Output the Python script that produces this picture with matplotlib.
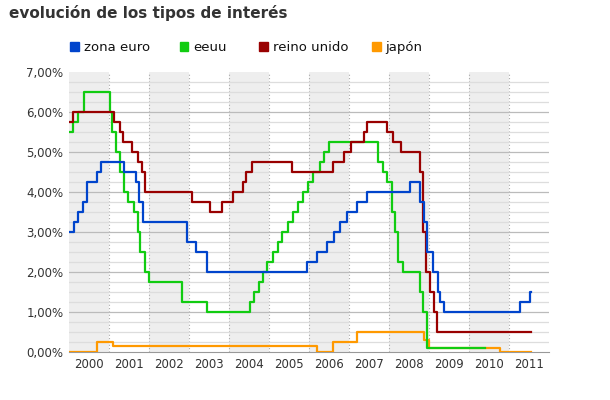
import matplotlib.pyplot as plt
import numpy as np

# step change dates (fractional years) and rates in %
euro_t = [2000.0, 2000.125, 2000.225, 2000.342, 2000.442, 2000.692, 2000.792, 2001.375, 2001.675,
          2001.758, 2001.858, 2002.958, 2003.175, 2003.442, 2005.942, 2006.208, 2006.458, 2006.625,
          2006.775, 2006.942, 2007.208, 2007.458, 2008.525, 2008.775, 2008.875, 2008.958, 2009.092,
          2009.225, 2009.275, 2009.375, 2011.275, 2011.525]
euro_v = [3.0, 3.25, 3.5, 3.75, 4.25, 4.5, 4.75, 4.5, 4.25, 3.75, 3.25, 2.75, 2.5, 2.0, 2.25, 2.5,
          2.75, 3.0, 3.25, 3.5, 3.75, 4.0, 4.25, 3.75, 3.25, 2.5, 2.0, 1.5, 1.25, 1.0, 1.25, 1.5]

us_t = [2000.0, 2000.1, 2000.217, 2000.383, 2001.017, 2001.083, 2001.183, 2001.283, 2001.367,
        2001.467, 2001.633, 2001.717, 2001.767, 2001.9, 2002.0, 2002.817, 2003.442, 2004.525,
        2004.625, 2004.742, 2004.858, 2004.958, 2005.092, 2005.225, 2005.325, 2005.475, 2005.592,
        2005.725, 2005.842, 2005.975, 2006.092, 2006.275, 2006.375, 2006.492, 2007.725, 2007.842,
        2007.942, 2008.075, 2008.142, 2008.225, 2008.342, 2008.775, 2008.858, 2008.942]
us_v = [5.5, 5.75, 6.0, 6.5, 6.0, 5.5, 5.0, 4.5, 4.0, 3.75, 3.5, 3.0, 2.5, 2.0, 1.75, 1.25, 1.0,
        1.25, 1.5, 1.75, 2.0, 2.25, 2.5, 2.75, 3.0, 3.25, 3.5, 3.75, 4.0, 4.25, 4.5, 4.75, 5.0,
        5.25, 4.75, 4.5, 4.25, 3.5, 3.0, 2.25, 2.0, 1.5, 1.0, 0.1]
us_end = 2010.4

uk_t = [2000.0, 2000.1, 2001.117, 2001.267, 2001.35, 2001.567, 2001.717, 2001.817, 2001.9,
        2003.083, 2003.517, 2003.833, 2004.1, 2004.35, 2004.433, 2004.583, 2005.583, 2006.6,
        2006.875, 2007.042, 2007.375, 2007.442, 2007.958, 2008.092, 2008.292, 2008.775, 2008.842,
        2008.925, 2009.025, 2009.125, 2009.192]
uk_v = [5.75, 6.0, 5.75, 5.5, 5.25, 5.0, 4.75, 4.5, 4.0, 3.75, 3.5, 3.75, 4.0, 4.25, 4.5, 4.75,
        4.5, 4.75, 5.0, 5.25, 5.5, 5.75, 5.5, 5.25, 5.0, 4.5, 3.0, 2.0, 1.5, 1.0, 0.5]

jp_t = [2000.0, 2000.692, 2001.092, 2006.192, 2006.592, 2007.208, 2008.875, 2009.008, 2010.775]
jp_v = [0.0, 0.25, 0.15, 0.0, 0.25, 0.5, 0.3, 0.1, 0.0]

end_t = 2011.55
years = list(range(2000, 2012))
ytick_labels = ['0,00%', '1,00%', '2,00%', '3,00%', '4,00%', '5,00%', '6,00%', '7,00%']

fig = plt.figure(figsize=(6.1, 4.0), dpi=100)
ax = fig.add_axes([0.113, 0.12, 0.787, 0.70])

for y in years[::2]:
    ax.axvspan(y, y + 1, color='#eeeeee', lw=0, zorder=0)
for y in years[1:]:
    ax.axvline(y, color='#aaaaaa', ls=(0, (1, 2)), lw=0.8, zorder=1)
for v in np.arange(0.25, 7.0, 0.25):
    major = abs(v - round(v)) < 1e-9
    ax.axhline(v, color='#bbbbbb' if major else '#dddddd', lw=0.9, zorder=1)


def step(t, v, end, color):
    ax.step(t + [end], v + [v[-1]], where='post', color=color, lw=1.6, zorder=3)


step(jp_t, jp_v, end_t, '#ff9900')
step(us_t, us_v, us_end, '#11cc11')
step(uk_t, uk_v, end_t, '#990000')
step(euro_t, euro_v, end_t, '#0044cc')

ax.set_xlim(2000, 2012)
ax.set_ylim(0, 7)
ax.set_xticks([y + 0.5 for y in years])
ax.set_xticklabels([str(y) for y in years], fontsize=8.5, color='#333333')
ax.set_yticks(range(8))
ax.set_yticklabels(ytick_labels, fontsize=8.5, color='#333333')
ax.tick_params(length=0, pad=4)
for s in ['top', 'right', 'left']:
    ax.spines[s].set_visible(False)
ax.spines['bottom'].set_color('#999999')

fig.text(0.015, 0.955, 'evolución de los tipos de interés', fontsize=11, fontweight='bold',
         color='#333333')
legend = [('zona euro', '#0044cc', 0.115), ('eeuu', '#11cc11', 0.295),
          ('reino unido', '#990000', 0.425), ('japón', '#ff9900', 0.61)]
for name, col, x in legend:
    fig.patches.append(plt.Rectangle((x, 0.873), 0.014, 0.022, color=col,
                                     transform=fig.transFigure))
    fig.text(x + 0.022, 0.872, name, fontsize=9.5, color='#111111')

fig.savefig('out.png', dpi=100)
